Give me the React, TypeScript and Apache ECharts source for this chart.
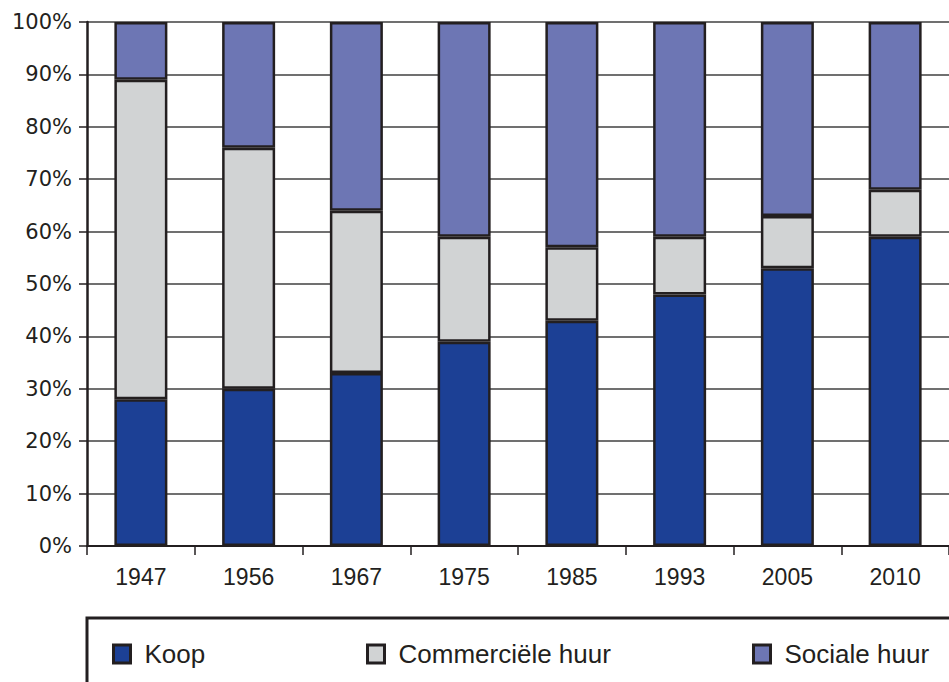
import React, { useEffect, useRef } from "react";
import * as echarts from "echarts";

const years = ["1947", "1956", "1967", "1975", "1985", "1993", "2005", "2010"];
const koop = [28, 30, 33, 39, 43, 48, 53, 59];
const commercieleHuur = [61, 46, 31, 20, 14, 11, 10, 9];
const socialeHuur = [11, 24, 36, 41, 43, 41, 37, 32];
const seriesNames = ["Koop", "Commerciële huur", "Sociale huur"];
const colors = ["#1c4095", "#d1d3d4", "#6d76b4"];

const DARK = "#231f20";
const FONT = "'Liberation Sans', Arial, sans-serif";
const YFONT = "'DejaVu Sans', sans-serif";

export default function App() {
  const ref = useRef<HTMLDivElement>(null);
  useEffect(() => {
    if (!ref.current) return;
    const chart = echarts.init(ref.current, undefined, { renderer: "svg" });
    const values = [koop, commercieleHuur, socialeHuur];
    const legendLefts = [112, 366, 752];
    chart.setOption({
      animation: false,
      backgroundColor: "#ffffff",
      grid: { left: 87, top: 22, width: 872, height: 524 },
      xAxis: {
        type: "category",
        data: years,
        boundaryGap: true,
        axisLine: { show: true, lineStyle: { color: DARK, width: 2 } },
        axisTick: { show: true, alignWithLabel: false, length: 9, lineStyle: { color: DARK, width: 1.5 } },
        axisLabel: { color: DARK, fontSize: 23, fontFamily: FONT, margin: 19 },
        splitLine: { show: false },
      },
      yAxis: {
        type: "value",
        min: 0,
        max: 100,
        interval: 10,
        axisLine: { show: true, lineStyle: { color: DARK, width: 2.5 } },
        axisTick: { show: true, length: 8, lineStyle: { color: DARK, width: 1.5 } },
        axisLabel: { color: DARK, fontSize: 21, fontFamily: YFONT, formatter: "{value}%", margin: 15 },
        splitLine: { show: true, lineStyle: { color: "#404040", width: 1.6 } },
      },
      legend: seriesNames.map((name, i) => ({
        data: [name],
        left: legendLefts[i],
        top: 641,
        padding: 0,
        icon: "rect",
        itemWidth: 17,
        itemHeight: 18,
        itemStyle: { borderColor: DARK, borderWidth: 3 },
        textStyle: { color: DARK, fontSize: 26, fontFamily: FONT, padding: [0, 0, 0, 9] },
        selectedMode: false,
      })),
      graphic: [
        {
          type: "rect",
          shape: { x: 87, y: 618, width: 900, height: 120 },
          style: { fill: "none", stroke: DARK, lineWidth: 3 },
        },
      ],
      series: seriesNames.map((name, i) => ({
        name,
        type: "bar",
        stack: "total",
        data: values[i],
        barWidth: 53,
        itemStyle: { color: colors[i], borderColor: DARK, borderWidth: 2.5 },
      })),
    });
    return () => chart.dispose();
  }, []);
  return (
    <div
      ref={ref}
      style={{ position: "fixed", left: 0, top: 0, width: 949, height: 682, background: "#fff" }}
    />
  );
}
